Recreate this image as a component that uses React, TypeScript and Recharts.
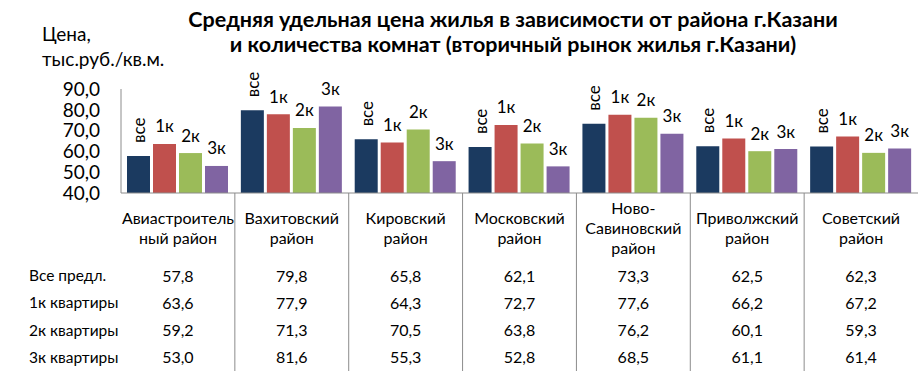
import { BarChart, Bar, XAxis, YAxis, LabelList } from "recharts"

const FONT = "Lato, 'Open Sans', sans-serif"

const districts = [
  "Авиастроительный район",
  "Вахитовский район",
  "Кировский район",
  "Московский район",
  "Ново-Савиновский район",
  "Приволжский район",
  "Советский район",
]

// how the names wrap in the table under the axis
const districtLines = [
  ["Авиастроитель", "ный район"],
  ["Вахитовский", "район"],
  ["Кировский", "район"],
  ["Московский", "район"],
  ["Ново-", "Савиновский", "район"],
  ["Приволжский", "район"],
  ["Советский", "район"],
]

const allOffers = [57.8, 79.8, 65.8, 62.1, 73.3, 62.5, 62.3]
const oneRoom = [63.6, 77.9, 64.3, 72.7, 77.6, 66.2, 67.2]
const twoRoom = [59.2, 71.3, 70.5, 63.8, 76.2, 60.1, 59.3]
const threeRoom = [53.0, 81.6, 55.3, 52.8, 68.5, 61.1, 61.4]

const rowNames = ["Все предл.", "1к квартиры", "2к квартиры", "3к квартиры"]
const series = [
  { key: "all", label: "все", color: "#1B3A60", values: allOffers },
  { key: "k1", label: "1к", color: "#C0504D", values: oneRoom },
  { key: "k2", label: "2к", color: "#9BBB59", values: twoRoom },
  { key: "k3", label: "3к", color: "#8064A2", values: threeRoom },
]

const yTicks = [40, 50, 60, 70, 80, 90]

const data = districts.map((name, i) => ({
  name,
  all: allOffers[i],
  k1: oneRoom[i],
  k2: twoRoom[i],
  k3: threeRoom[i],
}))

const W = 918
const H = 371
const M = { top: 89, right: 0, left: 0, bottom: 0 }
const Y_AXIS_W = 121
const BAND = (W - Y_AXIS_W - M.right) / districts.length

const fmt = (v: number) => v.toFixed(1).replace(".", ",")

function DistrictTick(props: any) {
  const { x, y, index } = props
  const lines = districtLines[index] || []
  const first = 227 - 193 - ((lines.length - 1) * 20) / 2
  return (
    <g>
      {index < districts.length - 1 && (
        <line x1={x + BAND / 2} x2={x + BAND / 2} y1={y} y2={H} stroke="#8c8c8c" strokeWidth={1} />
      )}
      {lines.map((ln, i) => (
        <text
          key={i}
          x={x}
          y={y + first + i * 20}
          textAnchor="middle"
          dominantBaseline="central"
          fontSize={16}
          fill="#000"
          fontFamily={FONT}
        >
          {ln}
        </text>
      ))}
      {series.map((s, r) => (
        <text
          key={s.key}
          x={x}
          y={y + 82 + r * 27.3}
          textAnchor="middle"
          dominantBaseline="central"
          fontSize={16}
          fill="#000"
          fontFamily={FONT}
        >
          {fmt(s.values[index])}
        </text>
      ))}
      {index === 0 &&
        rowNames.map((n, r) => (
          <text
            key={n}
            x={29}
            y={y + 82 + r * 27.3}
            textAnchor="start"
            dominantBaseline="central"
            fontSize={15.5}
            fill="#000"
            fontFamily={FONT}
          >
            {n}
          </text>
        ))}
    </g>
  )
}

function makeLabel(text: string, vertical: boolean) {
  return (props: any) => {
    const { x, y, width } = props
    const cx = x + width / 2
    if (vertical) {
      return (
        <text
          x={cx}
          y={y - 13}
          transform={`rotate(-90 ${cx} ${y - 13})`}
          textAnchor="start"
          dominantBaseline="central"
          fontSize={17}
          fill="#000"
          fontFamily={FONT}
        >
          {text}
        </text>
      )
    }
    return (
      <text
        x={cx}
        y={y - 18}
        textAnchor="middle"
        dominantBaseline="central"
        fontSize={17}
        fill="#000"
        fontFamily={FONT}
      >
        {text}
      </text>
    )
  }
}

export default function App() {
  return (
    <div
      style={{
        position: "absolute",
        left: 0,
        top: 0,
        width: W,
        height: H,
        background: "#fff",
        fontFamily: FONT,
      }}
    >
      <div
        style={{
          position: "absolute",
          left: 100,
          width: 826,
          top: 7,
          textAlign: "center",
          fontWeight: 700,
          fontSize: 21.5,
          lineHeight: "25px",
          color: "#000",
          whiteSpace: "nowrap",
        }}
      >
        Средняя удельная цена жилья в зависимости от района г.Казани
        <br />
        и количества комнат (вторичный рынок жилья г.Казани)
      </div>
      <div
        style={{
          position: "absolute",
          left: 42,
          top: 21,
          fontSize: 19,
          lineHeight: "25px",
          color: "#000",
        }}
      >
        Цена,
        <br />
        тыс.руб./кв.м.
      </div>
      <BarChart width={W} height={H} data={data} margin={M} barCategoryGap={6} barGap={3}>
        <XAxis
          dataKey="name"
          height={H - 193}
          interval={0}
          tickLine={false}
          tickSize={0}
          tickMargin={0}
          axisLine={{ stroke: "#8c8c8c" }}
          tick={<DistrictTick />}
        />
        <YAxis
          width={Y_AXIS_W}
          domain={[40, 90]}
          ticks={yTicks}
          interval={0}
          tickLine={false}
          tickSize={0}
          tickMargin={21}
          axisLine={{ stroke: "#8c8c8c" }}
          tickFormatter={fmt}
          tick={{ fontSize: 19, fill: "#000", fontFamily: FONT }}
        />
        {series.map((s) => (
          <Bar key={s.key} dataKey={s.key} fill={s.color} isAnimationActive={false}>
            <LabelList dataKey={s.key} content={makeLabel(s.label, s.key === "all")} />
          </Bar>
        ))}
      </BarChart>
    </div>
  )
}
